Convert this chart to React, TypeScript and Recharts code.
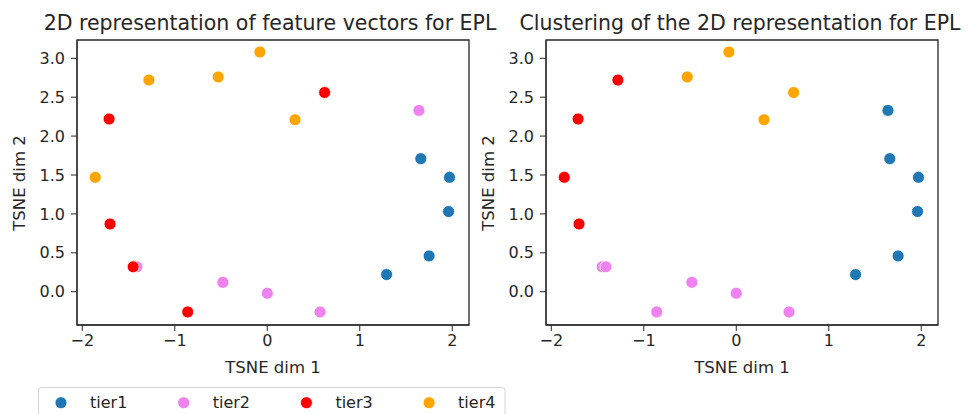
import { ReferenceArea, Scatter, ScatterChart, XAxis, YAxis } from "recharts";

const xTicks = [-2, -1, 0, 1, 2];
const yTicks = [0, 0.5, 1, 1.5, 2, 2.5, 3];
const tierNames = ["tier1", "tier2", "tier3", "tier4"];
const tierColors = ["#1f77b4", "#ee82ee", "#ff0000", "#ffa500"];

// left panel: points coloured by real tier
const tier1Pts = [
  { x: 1.66, y: 1.71 },
  { x: 1.97, y: 1.47 },
  { x: 1.96, y: 1.03 },
  { x: 1.29, y: 0.22 },
  { x: 1.75, y: 0.46 },
];
const tier2Pts = [
  { x: 1.64, y: 2.33 },
  { x: -1.41, y: 0.32 },
  { x: -0.48, y: 0.12 },
  { x: 0.0, y: -0.02 },
  { x: 0.57, y: -0.26 },
];
const tier3Pts = [
  { x: -1.71, y: 2.22 },
  { x: 0.62, y: 2.56 },
  { x: -1.7, y: 0.87 },
  { x: -1.45, y: 0.32 },
  { x: -0.86, y: -0.26 },
];
const tier4Pts = [
  { x: -1.86, y: 1.47 },
  { x: -1.28, y: 2.72 },
  { x: -0.53, y: 2.76 },
  { x: -0.08, y: 3.08 },
  { x: 0.3, y: 2.21 },
];

// right panel: same points coloured by cluster
const clusterBlue = [
  { x: 1.64, y: 2.33 },
  { x: 1.66, y: 1.71 },
  { x: 1.97, y: 1.47 },
  { x: 1.96, y: 1.03 },
  { x: 1.29, y: 0.22 },
  { x: 1.75, y: 0.46 },
];
const clusterViolet = [
  { x: -1.45, y: 0.32 },
  { x: -1.41, y: 0.32 },
  { x: -0.86, y: -0.26 },
  { x: -0.48, y: 0.12 },
  { x: 0.0, y: -0.02 },
  { x: 0.57, y: -0.26 },
];
const clusterRed = [
  { x: -1.86, y: 1.47 },
  { x: -1.71, y: 2.22 },
  { x: -1.28, y: 2.72 },
  { x: -1.7, y: 0.87 },
];
const clusterOrange = [
  { x: -0.53, y: 2.76 },
  { x: -0.08, y: 3.08 },
  { x: 0.62, y: 2.56 },
  { x: 0.3, y: 2.21 },
];

const X_DOM: [number, number] = [-2.057, 2.181];
const Y_DOM: [number, number] = [-0.428, 3.235];
const INK = "#262626";
const FONT = "DejaVu Sans, sans-serif";

const fmtX = (v: number) => (v < 0 ? "\u2212" + Math.abs(v) : String(v));
const fmtY = (v: number) => v.toFixed(1);

function dot(color: string) {
  return (p: any) => <circle cx={p.cx} cy={p.cy} r={6} fill={color} stroke="#fff" strokeWidth={0.8} />;
}

function Panel({ left, series }: { left: number; series: { data: { x: number; y: number }[]; color: string }[] }) {
  return (
    <div style={{ position: "absolute", left, top: 0 }}>
      <ScatterChart width={484} height={414} margin={{ top: 40, right: 15, bottom: 44, left: 40 }}>
        <XAxis
          type="number"
          dataKey="x"
          domain={X_DOM}
          ticks={xTicks}
          allowDataOverflow
          tickFormatter={fmtX}
          height={45}
          tickSize={6}
          tickMargin={4}
          stroke={INK}
          tick={{ fill: INK, fontSize: 16, fontFamily: FONT }}
        />
        <YAxis
          type="number"
          dataKey="y"
          domain={Y_DOM}
          ticks={yTicks}
          allowDataOverflow
          tickFormatter={fmtY}
          width={37}
          tickSize={6}
          tickMargin={6}
          stroke={INK}
          tick={{ fill: INK, fontSize: 16, fontFamily: FONT }}
        />
        <ReferenceArea
          x1={X_DOM[0]}
          x2={X_DOM[1]}
          y1={Y_DOM[0]}
          y2={Y_DOM[1]}
          fill="none"
          stroke={INK}
          strokeWidth={1.3}
          ifOverflow="visible"
        />
        {series.map((s, i) => (
          <Scatter key={i} data={s.data} shape={dot(s.color)} isAnimationActive={false} />
        ))}
      </ScatterChart>
    </div>
  );
}

export default function App() {
  const leftSeries = [tier1Pts, tier2Pts, tier3Pts, tier4Pts].map((d, i) => ({ data: d, color: tierColors[i] }));
  const rightSeries = [
    { data: clusterBlue, color: tierColors[0] },
    { data: clusterViolet, color: tierColors[1] },
    { data: clusterRed, color: tierColors[2] },
    { data: clusterOrange, color: tierColors[3] },
  ];
  return (
    <div style={{ position: "fixed", left: 0, top: 0, width: 968, height: 414, overflow: "hidden", background: "#fff", fontFamily: FONT }}>
      <Panel left={0} series={leftSeries} />
      <Panel left={469} series={rightSeries} />
      <svg width={968} height={414} style={{ position: "absolute", left: 0, top: 0, pointerEvents: "none" }}>
        <g fill={INK} fontFamily={FONT}>
          <text x={270} y={30} fontSize={20.5} textAnchor="middle">2D representation of feature vectors for EPL</text>
          <text x={740} y={30} fontSize={20.5} textAnchor="middle">Clustering of the 2D representation for EPL</text>
          <text x={273} y={373} fontSize={16.5} textAnchor="middle">TSNE dim 1</text>
          <text x={742} y={373} fontSize={16.5} textAnchor="middle">TSNE dim 1</text>
          <text transform="translate(25,183) rotate(-90)" fontSize={16.5} textAnchor="middle">TSNE dim 2</text>
          <text transform="translate(494,183) rotate(-90)" fontSize={16.5} textAnchor="middle">TSNE dim 2</text>
        </g>
        <rect x={38.5} y={387.5} width={466.5} height={40} rx={3} fill="#fff" stroke="#d4d4d4" strokeWidth={1} />
        {tierNames.map((name, i) => (
          <g key={name}>
            <circle cx={61 + i * 122.7} cy={402.7} r={6} fill={tierColors[i]} stroke="#fff" strokeWidth={0.8} />
            <text x={90 + i * 122.7} y={408} fontSize={16} fill={INK} fontFamily={FONT}>
              {name}
            </text>
          </g>
        ))}
      </svg>
    </div>
  );
}
